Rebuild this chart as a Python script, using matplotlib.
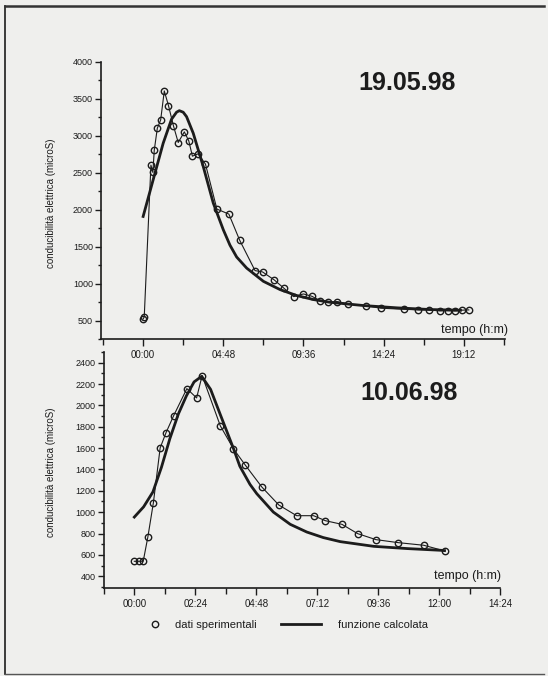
import matplotlib
matplotlib.use('Agg')
import matplotlib.pyplot as plt
from matplotlib.ticker import MultipleLocator, FuncFormatter
from matplotlib.lines import Line2D

plt.rcParams['font.family'] = ['Liberation Sans', 'DejaVu Sans']

# 19.05.98 - tempo in minuti, conducibilita' in microS
t_19 = [0, 4, 28, 35, 40, 51, 63, 76, 91, 109, 126, 148, 164, 177, 198, 224,
        265, 308, 347, 402, 429, 471, 506, 541, 576, 606, 637, 664, 697, 736,
        802, 854, 936, 988, 1026, 1066, 1095, 1120, 1144, 1170]
v_19 = [522, 550, 2604, 2505, 2806, 3104, 3216, 3608, 3410, 3135, 2910, 3054,
        2932, 2725, 2757, 2617, 2009, 1941, 1586, 1176, 1158, 1050, 937, 824,
        860, 829, 766, 748, 757, 725, 698, 667, 653, 644, 644, 631, 635, 631,
        640, 644]
# funzione calcolata
tc_19 = [0, 36, 72, 102, 120, 130, 144, 156, 180, 216, 252, 288, 312, 336,
         372, 432, 492, 552, 612, 672, 792, 912, 1032, 1140]
vc_19 = [1909, 2405, 2900, 3225, 3320, 3341, 3320, 3260, 3036, 2585, 2090,
         1729, 1520, 1360, 1210, 1031, 919, 838, 784, 747, 703, 672, 649, 639]

# 10.06.98
t_10 = [0, 10, 21, 32, 45, 61, 75, 93, 124, 147, 160, 203, 234, 262, 301,
        341, 383, 423, 451, 490, 527, 570, 622, 683, 732]
v_10 = [540, 540, 540, 768, 1088, 1602, 1746, 1905, 2157, 2070, 2279, 1808,
        1593, 1440, 1235, 1067, 967, 967, 920, 886, 799, 743, 715, 690, 637]
tc_10 = [0, 22, 44, 64, 84, 104, 123, 141, 159, 180, 202, 234, 249, 273, 289,
         328, 368, 407, 446, 486, 565, 644, 723, 732]
vc_10 = [954, 1050, 1190, 1420, 1690, 1920, 2090, 2220, 2272, 2150, 1923,
         1596, 1430, 1260, 1173, 1001, 886, 814, 762, 724, 680, 659, 643, 640]

bg = '#efefed'
ink = '#1c1c1c'

fig = plt.figure(figsize=(5.48, 6.76), dpi=100, facecolor=bg)


def hm(v, pos):
    v = int(round(v))
    return '%02d:%02d' % (v // 60, v % 60)


def style(ax, xlim, ylim, xmaj, xmin, ymaj, ymin):
    ax.patch.set_visible(False)
    ax.set_xlim(*xlim)
    ax.set_ylim(*ylim)
    for s in ['top', 'right']:
        ax.spines[s].set_visible(False)
    for s in ['left', 'bottom']:
        ax.spines[s].set_linewidth(1.2)
        ax.spines[s].set_color(ink)
    ax.xaxis.set_major_locator(MultipleLocator(xmaj))
    ax.xaxis.set_minor_locator(MultipleLocator(xmin))
    ax.xaxis.set_major_formatter(FuncFormatter(hm))
    ax.yaxis.set_major_locator(MultipleLocator(ymaj))
    ax.yaxis.set_minor_locator(MultipleLocator(ymin))
    ax.tick_params(axis='x', which='major', length=5, width=1, labelsize=7,
                   pad=3, color=ink, labelcolor=ink)
    ax.tick_params(axis='x', which='minor', length=4, width=1, color=ink)
    ax.tick_params(axis='y', which='major', length=4, width=1, labelsize=6.5,
                   pad=2, color=ink, labelcolor=ink)
    ax.tick_params(axis='y', which='minor', length=2.5, width=1, color=ink)


# grafico superiore
ax1 = fig.add_axes([0.185, 0.4985, 0.7365, 0.4098], zorder=2)
ax1.plot(t_19, v_19, color=ink, lw=0.8, marker='o', ms=4.6, mfc='none',
         mec=ink, mew=1.0)
ax1.plot(tc_19, vc_19, color=ink, lw=2.0)
style(ax1, (-150, 1300), (250, 4000), 288, 144, 500, 250)
ax1.text(0.757, 0.924, '19.05.98', transform=ax1.transAxes, ha='center',
         va='center', fontsize=18, fontweight='bold', color=ink)
ax1.text(0.841, 0.0325, 'tempo (h:m)', transform=ax1.transAxes, ha='left',
         va='center', fontsize=9, color=ink)

# grafico inferiore
ax2 = fig.add_axes([0.1894, 0.1302, 0.7239, 0.3491], zorder=1)
ax2.plot(t_10, v_10, color=ink, lw=0.8, marker='o', ms=4.6, mfc='none',
         mec=ink, mew=1.0)
ax2.plot(tc_10, vc_10, color=ink, lw=2.0)
style(ax2, (-72, 864), (290, 2500), 144, 72, 200, 100)
ax2.text(0.769, 0.826, '10.06.98', transform=ax2.transAxes, ha='center',
         va='center', fontsize=18, fontweight='bold', color=ink)
ax2.text(0.832, 0.051, 'tempo (h:m)', transform=ax2.transAxes, ha='left',
         va='center', fontsize=9, color=ink)

ylab = 'conducibilità elettrica (microS)'
fig.text(51 / 548, 1 - 203 / 676, ylab, rotation=90, ha='center',
         va='center', fontsize=7, color=ink)
fig.text(51 / 548, 1 - 472 / 676, ylab, rotation=90, ha='center',
         va='center', fontsize=7, color=ink)

# legenda (due voci posizionate separatamente)
h_dati = Line2D([], [], ls='none', marker='o', ms=4.6, mfc='none',
                mec=ink, mew=1.0)
h_fun = Line2D([], [], color=ink, lw=2.0)
leg1 = fig.legend([h_dati], ['dati sperimentali'], loc='center left',
                  bbox_to_anchor=(149 / 548, 1 - 625 / 676), frameon=False,
                  fontsize=8, handlelength=1.0, handletextpad=1.3,
                  borderpad=0, borderaxespad=0, labelcolor=ink)
leg2 = fig.legend([h_fun], ['funzione calcolata'], loc='center left',
                  bbox_to_anchor=(281 / 548, 1 - 625 / 676), frameon=False,
                  fontsize=8, handlelength=3.6, handletextpad=1.5,
                  borderpad=0, borderaxespad=0, labelcolor=ink)

# cornice della pagina
fig.add_artist(Line2D([5 / 548, 5 / 548], [1 - 6 / 676, 1 - 674 / 676],
                      transform=fig.transFigure, color=ink, lw=1.2))
fig.add_artist(Line2D([5 / 548, 544 / 548], [1 - 6 / 676, 1 - 6 / 676],
                      transform=fig.transFigure, color='#333333', lw=1.8))
fig.add_artist(Line2D([5 / 548, 544 / 548], [1 - 674 / 676, 1 - 674 / 676],
                      transform=fig.transFigure, color='#555555', lw=1.0))

fig.savefig('out.png', dpi=100, facecolor=bg)
